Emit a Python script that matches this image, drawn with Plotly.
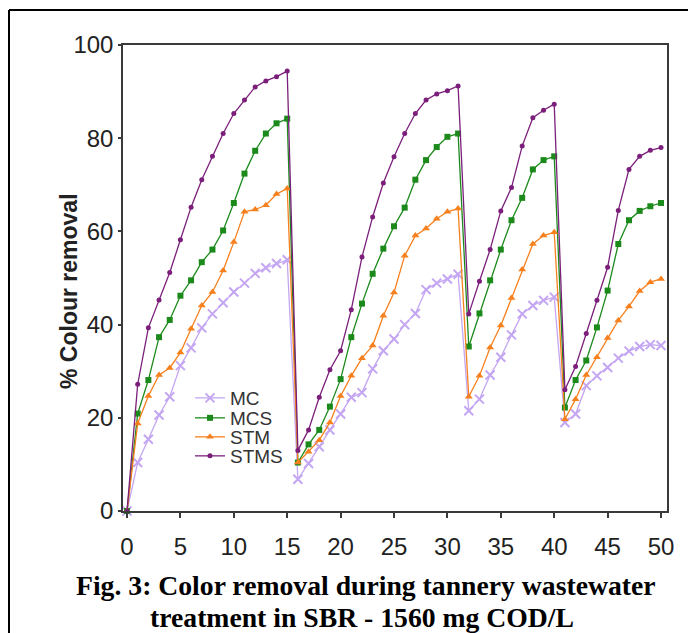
import plotly.graph_objects as go

days = list(range(0, 51))

mc = [0, 10.4, 15.4, 20.6, 24.5, 31.2, 35.0, 39.3, 42.3, 44.7, 47.0, 48.9, 51.0, 52.2, 53.1, 53.9,
      6.8, 10.2, 13.8, 17.4, 20.8, 24.4, 25.4, 30.5, 34.4, 36.9, 40.0, 42.4, 47.5, 48.9, 49.8, 50.8,
      21.5, 24.0, 29.2, 33.0, 37.8, 42.3, 44.1, 45.2, 45.9,
      19.0, 20.8, 26.9, 29.0, 30.8, 32.8, 34.3, 35.3, 35.7, 35.5]
mcs = [0, 20.9, 28.1, 37.3, 41.0, 46.2, 49.5, 53.4, 56.1, 60.2, 66.1, 72.4, 77.3, 81.0, 83.2, 84.2,
       10.4, 14.3, 17.4, 22.4, 28.3, 37.3, 44.5, 50.9, 56.3, 61.1, 65.1, 71.1, 75.3, 78.1, 80.3, 81.0,
       35.3, 42.4, 49.5, 56.1, 62.4, 67.2, 73.3, 75.3, 76.1,
       22.2, 28.1, 32.3, 39.4, 47.3, 57.3, 62.4, 64.4, 65.4, 66.1]
stm = [0, 18.8, 24.7, 29.2, 30.7, 34.0, 39.1, 44.1, 47.0, 51.6, 57.7, 64.2, 64.7, 65.6, 68.0, 69.2,
       10.4, 12.7, 15.2, 19.0, 24.7, 29.0, 32.8, 35.5, 41.9, 46.9, 54.8, 59.1, 60.6, 62.7, 64.2, 64.9,
       24.5, 29.0, 35.1, 39.8, 45.7, 51.8, 57.3, 59.1, 59.8,
       19.7, 24.0, 29.2, 33.0, 37.1, 40.9, 43.9, 47.2, 49.1, 49.8]
stms = [0, 27.2, 39.3, 45.3, 51.2, 58.2, 65.2, 71.1, 76.1, 81.0, 85.3, 88.2, 91.0, 92.3, 93.2, 94.4,
        13.0, 17.4, 24.4, 30.3, 34.4, 43.2, 54.5, 63.1, 70.4, 76.0, 81.0, 85.3, 88.2, 89.5, 90.2, 91.2,
        42.3, 49.3, 56.1, 64.4, 69.4, 78.3, 84.4, 86.0, 87.3,
        26.0, 31.0, 38.1, 45.2, 52.3, 64.5, 73.3, 76.1, 77.4, 78.0]

series_names = ["MC", "MCS", "STM", "STMS"]
x_ticks = [0, 5, 10, 15, 20, 25, 30, 35, 40, 45, 50]
y_ticks = [0, 20, 40, 60, 80, 100]

styles = {
    "MC": dict(color="#c4a6f2", symbol="x-thin-open", size=9, lw=1.3),
    "MCS": dict(color="#1b8a1b", symbol="square", size=6, lw=1.3),
    "STM": dict(color="#f7801e", symbol="triangle-up", size=7, lw=1.3),
    "STMS": dict(color="#7b1f7b", symbol="circle", size=5, lw=1.3),
}

fx = lambda px: (px - 123) / 544
fy = lambda py: (511 - py) / 466

legend_ids = ["legend", "legend2", "legend3", "legend4"]
legend_centers = [398, 418, 437, 456]

fig = go.Figure()
for name, vals, lid in zip(series_names, [mc, mcs, stm, stms], legend_ids):
    s = styles[name]
    fig.add_trace(go.Scatter(
        x=days, y=vals, name=name, mode="lines+markers", legend=lid,
        line=dict(color=s["color"], width=s["lw"]),
        marker=dict(symbol=s["symbol"], size=s["size"], color=s["color"],
                    line=dict(color=s["color"], width=2 if name == "MC" else 0)),
        cliponaxis=False,
    ))

axis_color = "#3a3a3a"
legend_common = dict(xanchor="left", yanchor="middle", bgcolor="rgba(0,0,0,0)",
                     font=dict(size=19, color="#333"), itemwidth=30)
layout_legends = {}
for lid, cy in zip(legend_ids, legend_centers):
    layout_legends[lid] = dict(x=fx(190), y=fy(cy), **legend_common)

fig.update_layout(
    width=688, height=633,
    margin=dict(l=123, r=21, t=45, b=122),
    paper_bgcolor="white", plot_bgcolor="white",
    font=dict(family="Liberation Sans, Arial, sans-serif", color="#222"),
    showlegend=True,
    xaxis=dict(range=[-0.375, 50.56], tickmode="array", tickvals=x_ticks,
               ticks="outside", ticklen=5, tickcolor=axis_color, tickwidth=1.5,
               showline=True, linecolor=axis_color, linewidth=1.5, mirror=True,
               showgrid=False, zeroline=False,
               tickfont=dict(size=24, color="#222"), ticklabelstandoff=8),
    yaxis=dict(range=[0, 100], tickmode="array", tickvals=y_ticks,
               ticks="outside", ticklen=3, tickcolor=axis_color, tickwidth=1.5,
               showline=True, linecolor=axis_color, linewidth=1.5, mirror=True,
               showgrid=False, zeroline=False,
               tickfont=dict(size=24, color="#222"), ticklabelstandoff=0),
    **layout_legends,
)

# y-axis title
fig.add_annotation(text="<b>% Colour removal</b>", xref="paper", yref="paper",
                   x=fx(69), y=fy(291), textangle=-90,
                   showarrow=False, xanchor="center", yanchor="middle",
                   font=dict(size=23, color="#222", family="Liberation Sans, Arial, sans-serif"))

# caption
cap_font = dict(size=27.7, color="black", family="Liberation Serif, Times New Roman, serif")
fig.add_annotation(text="<b>Fig. 3: Color removal during tannery wastewater</b>",
                   xref="paper", yref="paper", x=fx(366), y=fy(585), borderpad=0,
                   showarrow=False, xanchor="center", yanchor="middle", font=cap_font)
fig.add_annotation(text="<b>treatment in SBR - 1560 mg COD/L</b>",
                   xref="paper", yref="paper", x=fx(362), y=fy(617), borderpad=0,
                   showarrow=False, xanchor="center", yanchor="middle", font=cap_font)

# outer frame (left and top edges)
fig.add_shape(type="line", xref="paper", yref="paper", x0=fx(9), x1=fx(9), y0=fy(10), y1=fy(640),
              line=dict(color="black", width=2))
fig.add_shape(type="line", xref="paper", yref="paper", x0=fx(9), x1=fx(700), y0=fy(10), y1=fy(10),
              line=dict(color="black", width=2))

fig.write_html("out.html")
